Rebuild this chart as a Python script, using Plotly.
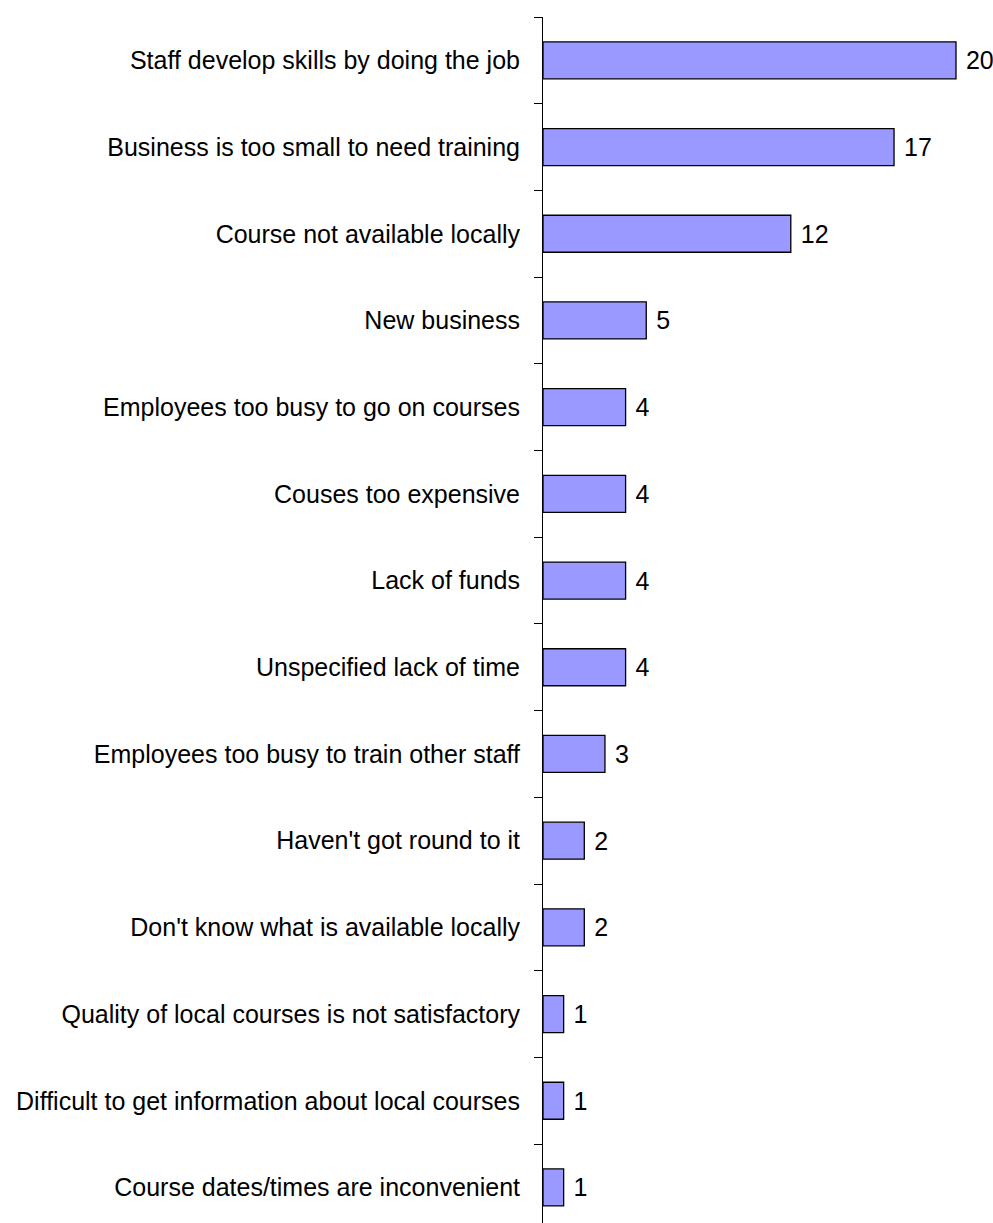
import plotly.graph_objects as go

# Reasons given for not providing training (number of businesses)
reasons = [
    "Staff develop skills by doing the job",
    "Business is too small to need training",
    "Course not available locally",
    "New business",
    "Employees too busy to go on courses",
    "Couses too expensive",
    "Lack of funds",
    "Unspecified lack of time",
    "Employees too busy to train other staff",
    "Haven't got round to it",
    "Don't know what is available locally",
    "Quality of local courses is not satisfactory",
    "Difficult to get information about local courses",
    "Course dates/times are inconvenient",
]
counts = [20, 17, 12, 5, 4, 4, 4, 4, 3, 2, 2, 1, 1, 1]

W, H = 993, 1223
left, right, top, bottom = 543, 6, 17, 0
cat_px = 86.7
plot_h = H - top - bottom
n_visible = plot_h / cat_px
FONT = "Liberation Sans, Arial, sans-serif"
FSIZE = 25

fig = go.Figure(
    go.Bar(
        x=counts,
        y=reasons,
        orientation="h",
        marker=dict(color="#9999FF", line=dict(color="black", width=1.3)),
        text=[" " + str(v) for v in counts],
        textposition="outside",
        textfont=dict(family=FONT, size=FSIZE, color="black"),
        cliponaxis=False,
    )
)

fig.update_layout(
    width=W,
    height=H,
    margin=dict(l=left, r=right, t=top, b=bottom, pad=0),
    paper_bgcolor="white",
    plot_bgcolor="white",
    showlegend=False,
    bargap=0.573,
    font=dict(family=FONT, size=FSIZE, color="black"),
)

fig.update_xaxes(
    range=[0, (W - left - right) / 20.65],
    visible=False,
    showgrid=False,
    zeroline=False,
)

fig.update_yaxes(
    type="category",
    categoryorder="array",
    categoryarray=reasons,
    range=[-0.5 + n_visible, -0.5],
    showline=True,
    linecolor="black",
    linewidth=1,
    ticks="outside",
    tickson="boundaries",
    ticklen=8,
    tickcolor="black",
    tickwidth=1,
    ticklabelstandoff=17,
    showgrid=False,
    zeroline=False,
    tickfont=dict(family=FONT, size=FSIZE, color="black"),
)

fig.write_html("out.html")
